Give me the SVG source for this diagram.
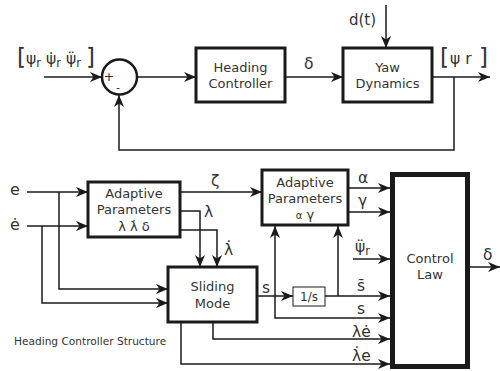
<svg xmlns="http://www.w3.org/2000/svg" width="500" height="371" viewBox="0 0 500 371">
<style>
.t{font-family:"DejaVu Sans",sans-serif;fill:#333}
.bx{font-size:13px;text-anchor:middle}
.g{font-size:15.5px}
.box{fill:#fff;stroke:#1a1a1a;stroke-width:3}
.ln{fill:none;stroke:#1a1a1a;stroke-width:1.5}
</style>
<defs>
<marker id="a" markerUnits="userSpaceOnUse" markerWidth="13" markerHeight="10" refX="12" refY="5" orient="auto">
<path d="M0,0 L12,5 L0,10 L3.5,5 z" fill="#1a1a1a"/>
</marker>
</defs>
<rect width="500" height="371" fill="#fff"/>

<g id="connectors">
<path class="ln" d="M44,77 L102,77" marker-end="url(#a)"/>
<path class="ln" d="M137,77 L196,77" marker-end="url(#a)"/>
<path class="ln" d="M285,77 L343,77" marker-end="url(#a)"/>
<path class="ln" d="M386,5 L386,48" marker-end="url(#a)"/>
<path class="ln" d="M432,77 L490,77" marker-end="url(#a)"/>
<path class="ln" d="M454,77 L454,150 L119,150 L119,95" marker-end="url(#a)"/>
<path class="ln" d="M27,192 L88,192" marker-end="url(#a)"/>
<path class="ln" d="M27,226 L88,226" marker-end="url(#a)"/>
<path class="ln" d="M59,192 L59,289 L168,289" marker-end="url(#a)"/>
<path class="ln" d="M42,226 L42,303 L168,303" marker-end="url(#a)"/>
<path class="ln" d="M180,211 L200,211 L200,267" marker-end="url(#a)"/>
<path class="ln" d="M180,230 L217,230 L217,267" marker-end="url(#a)"/>
<path class="ln" d="M180,192 L262,192" marker-end="url(#a)"/>
<path class="ln" d="M348,188 L390,188" marker-end="url(#a)"/>
<path class="ln" d="M348,212 L390,212" marker-end="url(#a)"/>
<path class="ln" d="M353,259 L390,259" marker-end="url(#a)"/>
<path class="ln" d="M257,296 L293,296" marker-end="url(#a)"/>
<path class="ln" d="M325,296 L390,296" marker-end="url(#a)"/>
<path class="ln" d="M338,296 L338,226" marker-end="url(#a)"/>
<path class="ln" d="M275,296 L275,226" marker-end="url(#a)"/>
<path class="ln" d="M275,296 L275,318 L390,318" marker-end="url(#a)"/>
<path class="ln" d="M213,322 L213,339 L390,339" marker-end="url(#a)"/>
<path class="ln" d="M181,322 L181,364 L390,364" marker-end="url(#a)"/>
<path class="ln" d="M470,267 L500,267" marker-end="url(#a)"/>
</g>

<g id="sum">
<circle cx="119.5" cy="77" r="17.5" fill="#fff" stroke="#1a1a1a" stroke-width="2.5"/>
<text class="t" x="109" y="81" font-size="13" text-anchor="middle">+</text>
<text class="t" x="118" y="91" font-size="11" text-anchor="middle">-</text>
</g>

<g id="heading-controller">
<rect class="box" x="196" y="48" width="89" height="54"/>
<text class="t bx" x="240.5" y="72">Heading</text>
<text class="t bx" x="240.5" y="88">Controller</text>
</g>

<g id="yaw-dynamics">
<rect class="box" x="343" y="48" width="89" height="54"/>
<text class="t bx" x="387.5" y="72">Yaw</text>
<text class="t bx" x="387.5" y="88">Dynamics</text>
</g>

<g id="adaptive-1">
<rect class="box" x="88" y="182" width="92" height="55"/>
<text class="t bx" x="134" y="198">Adaptive</text>
<text class="t bx" x="134" y="214">Parameters</text>
<text class="t bx" x="134" y="231">λ  λ̇  δ</text>
</g>

<g id="adaptive-2">
<rect class="box" x="262" y="170" width="86" height="55"/>
<text class="t bx" x="305" y="187">Adaptive</text>
<text class="t bx" x="305" y="203">Parameters</text>
<text class="t bx" x="305" y="219"><tspan font-size="10">α</tspan> γ</text>
</g>

<g id="sliding-mode">
<rect class="box" x="168" y="267" width="89" height="55"/>
<text class="t bx" x="212.5" y="291">Sliding</text>
<text class="t bx" x="212.5" y="308">Mode</text>
</g>

<g id="integrator">
<rect x="293" y="287" width="32" height="19" fill="#fff" stroke="#1a1a1a" stroke-width="1"/>
<text class="t" x="309" y="301" font-size="12" text-anchor="middle">1/s</text>
</g>

<g id="control-law">
<rect x="392.5" y="174.5" width="75" height="192" fill="#fff" stroke="#1a1a1a" stroke-width="5"/>
<text class="t bx" x="430" y="263">Control</text>
<text class="t bx" x="430" y="279">Law</text>
</g>

<g id="labels">
<text class="t" x="17" y="65" font-size="23">[</text>
<text class="t g" x="26" y="64">ψ<tspan font-size="11.5" dy="3">r</tspan></text>
<text class="t g" x="46" y="64">ψ̇<tspan font-size="11.5" dy="3">r</tspan></text>
<text class="t g" x="66" y="64">ψ̈<tspan font-size="11.5" dy="3">r</tspan></text>
<text class="t" x="86" y="65" font-size="23">]</text>

<text class="t" x="349" y="25" font-size="15">d(t)</text>
<text class="t g" x="304" y="69">δ</text>

<text class="t" x="440" y="65" font-size="23">[</text>
<text class="t g" x="450" y="64">ψ r</text>
<text class="t" x="479" y="65" font-size="23">]</text>

<text class="t" x="10" y="195" font-size="16">e</text>
<text class="t" x="10" y="230" font-size="16">ė</text>
<text class="t g" x="211" y="186">ζ</text>
<text class="t g" x="204" y="217">λ</text>
<text class="t g" x="224" y="255">λ̇</text>
<text class="t g" x="262" y="293">s</text>
<text class="t g" x="358" y="183">α</text>
<text class="t g" x="358" y="206">γ</text>
<text class="t g" x="355" y="252">ψ̈<tspan font-size="11.5" dy="3">r</tspan></text>
<text class="t g" x="357" y="291">s̄</text>
<text class="t g" x="357" y="314">s</text>
<text class="t g" x="352" y="337">λė</text>
<text class="t g" x="352" y="361">λ̇e</text>
<text class="t g" x="483" y="260">δ</text>

<text class="t" x="14" y="345" font-size="10.6">Heading Controller Structure</text>
</g>
</svg>
